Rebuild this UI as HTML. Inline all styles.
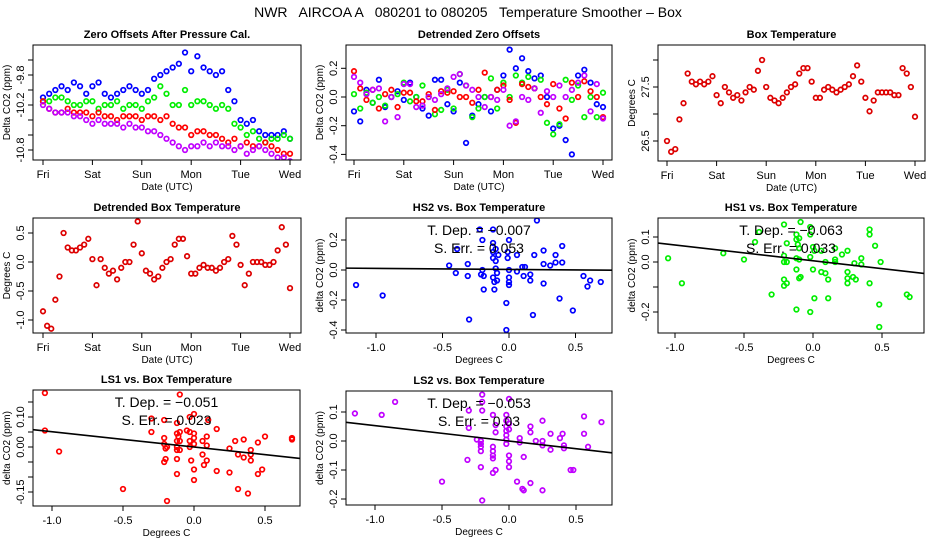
<!DOCTYPE html>
<html><head><meta charset="utf-8"><style>
body{margin:0;background:#fff}
svg{display:block;font-family:"Liberation Sans",sans-serif}
</style></head><body>
<svg id="c" width="936" height="540" viewBox="0 0 936 540" xmlns="http://www.w3.org/2000/svg">
<rect width="936" height="540" fill="#fff"/>
<text x="468" y="17" font-size="14" text-anchor="middle" style="white-space:pre" xml:space="preserve">NWR   AIRCOA A   080201 to 080205   Temperature Smoother – Box</text>
</svg>
<script>
const dayLabels=["Fri","Sat","Sun","Mon","Tue","Wed"];
const p1Ticks=[-9.6,-9.8,-10.0,-10.2,-10.4,-10.6,-10.8];
const p1Labels=["","-9.8","","-10.2","","","-10.8"];
const p1Blue=[-10.1,-10.05,-10.0,-9.95,-10.0,-9.9,-9.95,-10.05,-9.95,-9.9,-10.05,-10.1,-10.05,-10.0,-9.95,-10.0,-10.05,-10.0,-9.85,-9.8,-9.75,-9.7,-9.65,-9.5,-9.75,-9.55,-9.7,-9.75,-9.8,-9.75,-10.0,-10.15,-10.4,-10.45,-10.4,-10.55,-10.6,-10.6,-10.6,-10.55,-10.65];
const p1Green=[-10.15,-10.15,-10.1,-10.1,-10.15,-10.2,-10.2,-10.15,-10.15,-10.25,-10.2,-10.2,-10.15,-10.25,-10.2,-10.2,-10.25,-10.15,-10.1,-9.95,-10.05,-10.2,-10.2,-10.0,-10.2,-10.15,-10.15,-10.2,-10.25,-10.2,-10.25,-10.45,-10.5,-10.6,-10.55,-10.65,-10.7,-10.65,-10.65,-10.6,-10.65];
const p1Red=[-10.15,-10.25,-10.3,-10.3,-10.25,-10.3,-10.3,-10.3,-10.35,-10.3,-10.35,-10.35,-10.4,-10.35,-10.35,-10.35,-10.4,-10.35,-10.35,-10.4,-10.35,-10.45,-10.5,-10.5,-10.6,-10.55,-10.55,-10.6,-10.6,-10.65,-10.7,-10.65,-10.75,-10.7,-10.75,-10.75,-10.7,-10.75,-10.8,-10.85,-10.85];
const p1Purple=[-10.2,-10.25,-10.3,-10.3,-10.3,-10.35,-10.35,-10.4,-10.45,-10.4,-10.45,-10.45,-10.45,-10.5,-10.45,-10.5,-10.5,-10.55,-10.55,-10.6,-10.65,-10.7,-10.75,-10.8,-10.75,-10.75,-10.7,-10.75,-10.7,-10.75,-10.75,-10.8,-10.75,-10.85,-10.8,-10.75,-10.8,-10.85,-10.9,-10.9,-10.95];
const p2Ticks=[0.2,0.0,-0.2,-0.4];
const p2Labels=["0.2","0.0","-0.2","-0.4"];
const p2Blue=[-0.1,-0.17,0.05,-0.04,0.12,-0.07,0.0,0.04,-0.02,0.1,0.0,-0.08,-0.13,0.12,0.12,-0.05,-0.1,0.1,-0.32,-0.13,-0.05,0.0,-0.1,0.05,0.15,0.33,0.2,0.27,0.18,0.13,0.15,0.0,-0.22,-0.2,-0.3,-0.4,0.15,0.19,0.1,-0.05,-0.07];
const p2Green=[0.02,-0.08,0.03,-0.04,0.0,-0.06,0.0,0.02,0.1,-0.03,0.0,0.08,0.0,-0.12,-0.09,0.05,-0.08,0.16,0.08,-0.14,-0.08,0.0,0.13,-0.08,0.1,0.0,0.15,0.1,0.14,0.06,0.12,-0.18,-0.26,-0.19,0.12,-0.02,0.08,-0.14,0.0,-0.14,0.03];
const p2Red=[0.18,0.06,-0.02,0.05,-0.08,0.02,0.05,-0.07,0.03,0.03,-0.03,-0.03,0.02,-0.09,0.04,0.03,0.04,0.0,0.0,-0.04,0.05,0.17,0.0,0.05,0.08,-0.02,-0.18,0.09,0.07,0.06,0.0,-0.05,0.09,-0.08,-0.15,0.1,0.0,0.11,0.04,0.0,-0.14];
const p2Purple=[0.14,0.1,0.02,0.05,0.06,-0.17,0.0,-0.14,0.09,0.09,-0.07,-0.06,0.0,-0.02,0.02,0.06,0.14,0.16,0.08,0.05,0.0,-0.07,0.0,-0.02,0.05,-0.2,-0.17,0.0,-0.02,0.06,-0.11,0.04,0.0,0.08,0.0,0.05,0.1,0.15,-0.1,0.09,-0.15];
const p3Ticks=[28.0,27.5,27.0,26.5];
const p3Labels=["","27.5","","26.5"];
const p3Temp=[26.5,26.3,26.35,26.9,27.2,27.75,27.6,27.55,27.6,27.55,27.6,27.7,27.35,27.2,27.5,27.4,27.3,27.35,27.25,27.4,27.5,27.45,27.8,28.0,27.5,27.3,27.25,27.2,27.3,27.4,27.5,27.55,27.75,27.85,27.85,27.6,27.3,27.3,27.45,27.5,27.45,27.4,27.45,27.5,27.55,27.7,27.9,27.6,27.3,27.05,27.25,27.4,27.4,27.4,27.4,27.35,27.35,27.85,27.75,27.5,26.95];
const p4Ticks=[0.5,0.0,-0.5,-1.0];
const p4Labels=["0.5","0.0","-0.5","-1.0"];
const p4Temp=[-0.85,-1.1,-1.15,-0.65,-0.25,0.5,0.25,0.2,0.2,0.25,0.3,0.4,0.05,-0.4,0.05,-0.1,-0.2,-0.15,-0.3,-0.1,0.0,0.0,0.3,0.7,0.15,-0.15,-0.2,-0.3,-0.25,-0.1,0.0,0.05,0.3,0.4,0.4,0.1,-0.2,-0.2,-0.1,-0.05,-0.1,-0.1,-0.15,-0.1,0.0,0.05,0.45,0.3,-0.05,-0.4,-0.2,0.0,0.0,0.0,-0.05,-0.05,0.0,0.2,0.6,0.3,-0.45];
const scXTicks=[-1.0,-0.5,0.0,0.5];
const scXLabels=["-1.0","-0.5","0.0","0.5"];
const p5X=[-1.15,-0.95,-0.45,-0.4,-0.39,-0.31,-0.31,-0.3,-0.22,-0.21,-0.2,-0.2,-0.19,-0.19,-0.12,-0.12,-0.12,-0.12,-0.12,-0.11,-0.11,-0.1,-0.1,-0.1,-0.09,-0.09,-0.08,-0.02,-0.02,-0.01,-0.01,0.0,0.0,0.0,0.0,0.0,0.06,0.06,0.1,0.11,0.12,0.16,0.16,0.18,0.19,0.21,0.26,0.26,0.26,0.31,0.35,0.35,0.38,0.4,0.4,0.48,0.56,0.59,0.61,0.69];
const p5Y=[-0.1,-0.17,0.03,-0.02,0.14,0.04,-0.04,-0.33,0.27,-0.03,0.2,0.0,-0.04,-0.13,0.27,0.18,0.12,0.08,-0.05,-0.08,-0.13,0.14,0.06,0.01,-0.02,-0.07,0.1,-0.22,-0.4,0.12,0.08,0.2,0.0,-0.05,-0.1,-0.08,0.1,-0.01,0.02,-0.04,0.02,-0.03,-0.07,-0.3,0.1,0.33,0.13,0.04,-0.09,0.03,0.05,0.1,-0.19,0.16,0.05,-0.27,-0.04,-0.11,-0.07,-0.08];
const p5Fit=[0.004,-0.007];
const p6X=[-1.05,-0.95,-0.65,-0.5,-0.42,-0.39,-0.3,-0.21,-0.21,-0.21,-0.21,-0.21,-0.19,-0.19,-0.19,-0.12,-0.12,-0.12,-0.12,-0.12,-0.11,-0.1,-0.1,-0.1,-0.1,-0.09,-0.09,-0.02,-0.02,-0.02,-0.02,0.0,0.0,0.01,0.01,0.06,0.06,0.09,0.09,0.11,0.11,0.16,0.16,0.16,0.21,0.25,0.25,0.25,0.25,0.29,0.3,0.31,0.35,0.35,0.41,0.41,0.41,0.45,0.48,0.48,0.49,0.68,0.7];
const p6Y=[0.015,-0.085,0.035,0.01,0.08,0.12,-0.13,0.15,0.025,0.0,-0.07,-0.095,0.075,-0.085,0.0,0.11,0.09,0.015,-0.03,-0.19,0.07,0.095,0.055,0.01,-0.065,0.16,-0.06,0.14,0.11,0.02,-0.2,0.06,-0.03,0.045,-0.145,0.045,-0.04,0.0,-0.045,-0.07,-0.145,0.055,0.01,0.0,0.03,0.045,-0.04,-0.065,-0.085,-0.06,-0.005,-0.07,0.015,-0.01,0.13,0.11,-0.085,0.065,-0.17,-0.26,0.0,-0.13,-0.14];
const p6Fit=[0.005,-0.063];
const p7X=[-1.05,-1.05,-0.95,-0.5,-0.3,-0.3,-0.21,-0.21,-0.21,-0.2,-0.21,-0.2,-0.19,-0.19,-0.12,-0.12,-0.12,-0.12,-0.12,-0.12,-0.12,-0.11,-0.1,-0.1,-0.1,-0.1,-0.05,-0.03,-0.03,-0.03,-0.03,-0.02,0.0,0.0,0.0,0.0,0.0,0.0,0.06,0.06,0.07,0.09,0.09,0.09,0.1,0.16,0.16,0.25,0.25,0.29,0.31,0.31,0.35,0.35,0.38,0.4,0.4,0.4,0.45,0.45,0.48,0.5,0.69,0.69];
const p7Y=[0.18,0.055,-0.015,-0.14,0.095,0.05,0.09,0.03,0.01,-0.04,-0.05,-0.005,0.0,-0.18,0.08,0.045,0.02,0.0,-0.01,-0.04,-0.09,0.035,0.05,0.02,-0.01,0.175,0.055,0.1,0.05,0.02,0.0,-0.045,0.11,0.045,0.03,0.01,-0.075,-0.11,0.02,-0.025,-0.06,0.035,0.005,-0.045,0.09,0.06,-0.08,-0.005,-0.085,0.02,-0.025,-0.14,0.025,-0.035,-0.155,-0.01,-0.025,-0.045,0.015,-0.09,-0.075,0.035,0.03,0.025];
const p7Fit=[0.0,-0.051];
const p8X=[-1.15,-0.95,-0.85,-0.5,-0.31,-0.3,-0.3,-0.24,-0.21,-0.21,-0.21,-0.21,-0.21,-0.2,-0.2,-0.2,-0.2,-0.12,-0.12,-0.12,-0.12,-0.12,-0.12,-0.1,-0.1,-0.1,-0.02,-0.02,-0.02,-0.02,-0.02,-0.02,-0.02,0.0,0.0,0.0,0.0,0.0,0.0,0.06,0.08,0.08,0.1,0.11,0.11,0.16,0.16,0.16,0.2,0.25,0.25,0.25,0.25,0.31,0.31,0.38,0.4,0.41,0.41,0.46,0.48,0.56,0.56,0.59,0.69];
const p8Y=[0.095,0.09,0.135,-0.14,-0.065,0.105,0.045,0.005,0.0,-0.01,-0.02,-0.035,-0.09,0.16,0.135,0.105,-0.205,0.09,-0.02,-0.035,-0.05,-0.06,-0.11,0.055,0.03,-0.1,0.09,0.07,0.05,0.035,0.02,0.005,-0.01,0.145,0.06,0.04,-0.05,-0.07,-0.09,-0.14,0.01,-0.005,-0.165,-0.17,-0.055,0.05,0.03,-0.145,0.0,0.07,0.0,-0.015,-0.17,0.025,-0.03,0.01,0.025,-0.015,-0.025,-0.1,-0.1,0.085,0.025,-0.02,0.065];
const p8Fit=[0.0,-0.053];

const svg=document.getElementById('c');
const NS='http://www.w3.org/2000/svg';
function mk(tag,attrs,parent){const e=document.createElementNS(NS,tag);for(const k in attrs)e.setAttribute(k,attrs[k]);(parent||svg).appendChild(e);return e;}
function txt(s,x,y,size,anchor,parent,rot,bold){const t=mk('text',{x:x,y:y,'font-size':size,'text-anchor':anchor||'middle'},parent);if(bold)t.setAttribute('font-weight','bold');if(rot)t.setAttribute('transform','rotate(-90 '+x+' '+y+')');t.textContent=s;return t;}
function lin(d0,d1,r0,r1){return v=>r0+(v-d0)*(r1-r0)/(d1-d0);}

function panel(o){
  const g=mk('g',{});
  
  
  const b=o.box;
  const tt=txt(o.title,(b[0]+b[2])/2,b[1]-7,11,'middle',g,false,true);
  
  
  const xa=mk('g',{},g);
  
  
  o.xt.forEach((v,i)=>{const x=o.xs(v);mk('line',{x1:x,y1:b[3],x2:x,y2:b[3]+5,stroke:'#000'},xa);txt(o.xl[i],x,b[3]+18,11,'middle',xa);});
  mk('line',{x1:o.xs(o.xt[0]),y1:b[3],x2:o.xs(o.xt[o.xt.length-1]),y2:b[3],stroke:'#000'},xa);
  const xt=txt(o.xtitle,(b[0]+b[2])/2,b[3]+30,10,'middle',g);
  
  
  const ya=mk('g',{},g);
  
  
  o.yt.forEach((v,i)=>{const y=o.ys(v);mk('line',{x1:b[0]-5,y1:y,x2:b[0],y2:y,stroke:'#000'},ya);if(o.yl[i])txt(o.yl[i],b[0]-9,y,11,'middle',ya,true);});
  const yt=txt(o.ytitle,b[0]-23,(b[1]+b[3])/2,10,'middle',g,true);
  
  
  const cl='clip'+o.name;
  const cp=mk('clipPath',{id:cl},g);mk('rect',{x:b[0],y:b[1],width:b[2]-b[0],height:b[3]-b[1]},cp);
  const pg=mk('g',{'clip-path':'url(#'+cl+')'},g);
  o.series.forEach(s=>{
    const sg=mk('g',{},pg);
    
    
    s.y.forEach((v,i)=>{
      const xv=s.x?s.x[i]:i/s.per;
      const c=mk('circle',{cx:o.xs(xv),cy:o.ys(v),r:2.3,fill:'none',stroke:s.color,'stroke-width':1.7},sg);
      
      
    });
  });
  if(o.fit){
    const x0=o.xinv(b[0]),x1=o.xinv(b[2]);
    const l=mk('line',{x1:b[0],y1:o.ys(o.fit[0]+o.fit[1]*x0),x2:b[2],y2:o.ys(o.fit[0]+o.fit[1]*x1),stroke:'#000','stroke-width':1.6},pg);
    
    
    const cx=(b[0]+b[2])/2;
    const a1=txt('T. Dep. =  '+o.fit[1].toFixed(3).replace('-','\u2212'),cx,b[1]+17,14,'middle',g);
    
    
    const a2=txt('S. Err. =  '+o.err,cx,b[1]+35,14,'middle',g);
    
    
  }
  mk('rect',{x:b[0],y:b[1],width:b[2]-b[0],height:b[3]-b[1],fill:'none',stroke:'#000'},g);
}
const days=[0,1,2,3,4,5];
panel({name:'zero-offsets-panel',title:'Zero Offsets After Pressure Cal.',box:[33,45,301,160],xs:lin(0,5,43,290),xt:days,xl:dayLabels,xtitle:'Date (UTC)',ys:lin(-9.8,-10.8,75,150),yt:p1Ticks,yl:p1Labels,ytitle:'Delta CO2 (ppm)',
 series:[{name:'zero-blue-series',y:p1Blue,per:8,color:'#0000ff'},{name:'zero-green-series',y:p1Green,per:8,color:'#00ee00'},{name:'zero-red-series',y:p1Red,per:8,color:'#ff0000'},{name:'zero-purple-series',y:p1Purple,per:8,color:'#c000ff'}]});
panel({name:'detrended-zero-panel',title:'Detrended Zero Offsets',box:[346,45,612,160],xs:lin(0,5,354,603),xt:days,xl:dayLabels,xtitle:'Date (UTC)',ys:lin(0,0.2,97,68.3),yt:p2Ticks,yl:p2Labels,ytitle:'Delta CO2 (ppm)',
 series:[{name:'detr-blue-series',y:p2Blue,per:8,color:'#0000ff'},{name:'detr-green-series',y:p2Green,per:8,color:'#00ee00'},{name:'detr-red-series',y:p2Red,per:8,color:'#ff0000'},{name:'detr-purple-series',y:p2Purple,per:8,color:'#c000ff'}]});
panel({name:'box-temp-panel',title:'Box Temperature',box:[658,45,925,161],xs:lin(0,5,667,915),xt:days,xl:dayLabels,xtitle:'Date (UTC)',ys:lin(26.5,27.5,141,87),yt:p3Ticks,yl:p3Labels,ytitle:'Degrees C',
 series:[{name:'box-temp-series',y:p3Temp,per:12,color:'#dd0000'}]});
panel({name:'detrended-box-temp-panel',title:'Detrended Box Temperature',box:[33,218,301,333],xs:lin(0,5,43,290),xt:days,xl:dayLabels,xtitle:'Date (UTC)',ys:lin(0,0.5,262,233),yt:p4Ticks,yl:p4Labels,ytitle:'Degrees C',
 series:[{name:'detrended-temp-series',y:p4Temp,per:12,color:'#dd0000'}]});
function sc(name,title,box,x0,x1,y0v,y0p,y1v,y1p,yt,yl,X,Y,color,fit,err){
  const xs=lin(0,0.5,x0,x1),xinv=lin(x0,x1,0,0.5);
  panel({name:name,title:title,box:box,xs:xs,xinv:xinv,xt:scXTicks,xl:scXLabels,xtitle:'Degrees C',ys:lin(y0v,y1v,y0p,y1p),yt:yt,yl:yl,ytitle:'delta CO2 (ppm)',
   series:[{name:name+'-points',x:X,y:Y,color:color}],fit:fit,err:err});
}
sc('hs2-panel','HS2 vs. Box Temperature',[346,218,612,333],509,575.5,0,270,0.2,240,[0.2,0.0,-0.2,-0.4],["0.2","0.0","-0.2","-0.4"],p5X,p5Y,'#0000ff',p5Fit,'0.053');
sc('hs1-panel','HS1 vs. Box Temperature',[658,218,924,333],813,882,0,262,0.1,237,[0.1,0.0,-0.1,-0.2],["0.1","0.0","","-0.2"],p6X,p6Y,'#00ee00',p6Fit,'0.033');
sc('ls1-panel','LS1 vs. Box Temperature',[33,390,300,506],194,265,0,447,0.1,417,[0.15,0.10,0.05,0.0,-0.05,-0.10,-0.15],["","0.10","","0.00","","","-0.15"],p7X,p7Y,'#ff0000',p7Fit,'0.023');
sc('ls2-panel','LS2 vs. Box Temperature',[346,391,612,505],509,576,0,441,0.1,412,[0.1,0.0,-0.1,-0.2],["0.1","0.0","-0.1","-0.2"],p8X,p8Y,'#c000ff',p8Fit,'0.03');
</script>
</body></html>
